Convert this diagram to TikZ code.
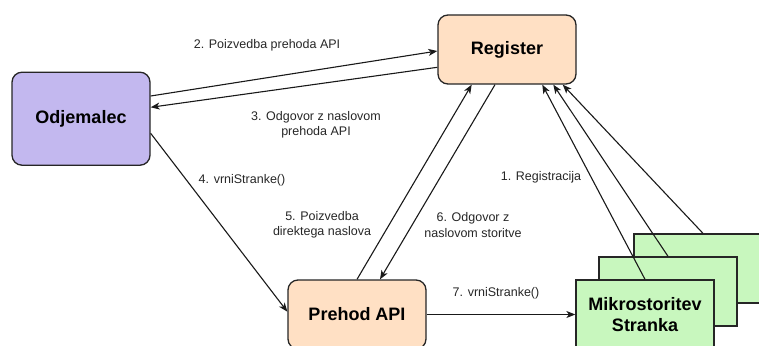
\documentclass[tikz,border=0pt]{standalone}
\usepackage{fontspec}
\setmainfont{Liberation Sans}
\usetikzlibrary{arrows.meta}

\definecolor{peach}{HTML}{FFE0C4}
\definecolor{lavender}{HTML}{C3B8EF}
\definecolor{mint}{HTML}{C8F7BE}
\definecolor{labelgray}{HTML}{262626}

\tikzset{
  box/.style={draw=black!85, line width=1.3pt, minimum width=138pt,
    minimum height=69pt, inner sep=0pt, align=center,
    font=\fontsize{18}{21}\selectfont\bfseries},
  roundbox/.style={box, rounded corners=10pt},
  service/.style={box, fill=mint},
  flow/.style={draw=black!90, line width=1.1pt,
    -{Stealth[length=9pt,width=7pt,inset=2.5pt]}},
  lbl/.style={align=center, inner sep=0pt, text=labelgray,
    font=\fontsize{12.5}{15.5}\selectfont}
}

\begin{document}
\begin{tikzpicture}[x=1pt,y=-1pt]
  \useasboundingbox (0,0) rectangle (759,345);

  % nodes
  \node[roundbox, fill=peach] (reg) at (507,49.5) {Register};
  \node[roundbox, fill=lavender, minimum height=93pt] (odj) at (81,118.7) {Odjemalec};
  \node[roundbox, fill=peach] (gw) at (357,314.5) {Prehod API};

  % stacked microservice instances, back to front
  \node[service] (ms3) at (703,268.5) {};
  \node[service] (ms2) at (668,291.5) {};
  \node[service] (ms1) at (645,314.5) {Mikrostoritev\\Stranka};

  % client <-> registry
  \draw[flow] ([yshift=22.7pt]odj.east) -- ([yshift=-1.5pt]reg.west);
  \draw[flow] ([yshift=-17.8pt]reg.west) -- ([yshift=11.4pt]odj.east);

  % client -> gateway
  \draw[flow] ([yshift=-14.6pt]odj.east) -- ([yshift=2.8pt]gw.west);

  % gateway <-> registry
  \draw[flow] (gw.north) -- ([xshift=-35.3pt]reg.south);
  \draw[flow] ([xshift=-12pt]reg.south) -- ([xshift=23pt]gw.north);

  % gateway -> service
  \draw[flow] (gw.east) -- (ms1.west);

  % service registration
  \draw[flow] (ms1.north) -- ([xshift=35.3pt]reg.south);
  \draw[flow] (ms2.north) -- ([xshift=46.3pt]reg.south);
  \draw[flow] (ms3.north) -- ([xshift=55.7pt]reg.south);

  % labels
  \node[lbl] (l2) at (267,45) {2. Poizvedba prehoda API};
  \node[lbl] (l3) at (316,125) {3. Odgovor z naslovom\\prehoda API};
  \node[lbl] (l4) at (242,180) {4. vrniStranke()};
  \node[lbl] (l5) at (322,225) {5. Poizvedba\\direktega naslova};
  \node[lbl] (l6) at (473,225) {6. Odgovor z\\naslovom storitve};
  \node[lbl] (l7) at (496,293.3) {7. vrniStranke()};
  \node[lbl] (l1) at (541,177.3) {1. Registracija};
\end{tikzpicture}
\end{document}
